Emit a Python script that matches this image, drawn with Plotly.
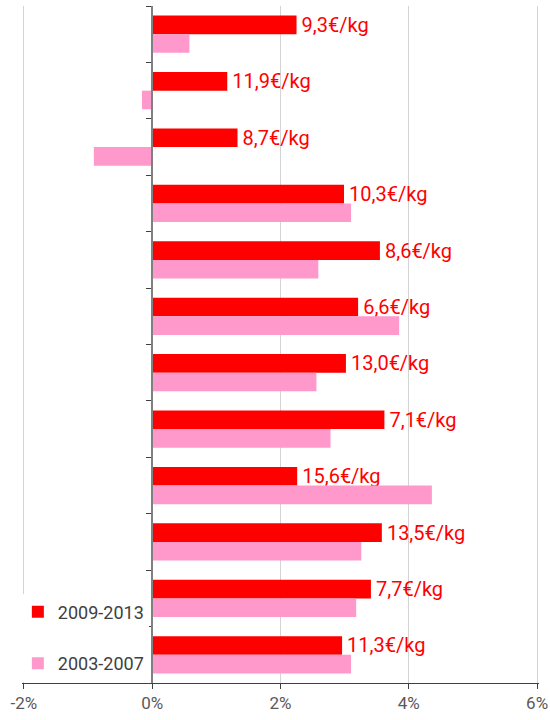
import plotly.graph_objects as go

categories = ["P1", "P2", "P3", "P4", "P5", "P6", "P7", "P8", "P9", "P10", "P11", "P12"]
growth_2009_2013 = [2.25, 1.17, 1.33, 2.99, 3.55, 3.21, 3.02, 3.62, 2.26, 3.58, 3.41, 2.96]
growth_2003_2007 = [0.58, -0.16, -0.91, 3.10, 2.59, 3.85, 2.56, 2.78, 4.36, 3.26, 3.18, 3.10]
price_labels = ["9,3€/kg", "11,9€/kg", "8,7€/kg", "10,3€/kg", "8,6€/kg", "6,6€/kg",
                "13,0€/kg", "7,1€/kg", "15,6€/kg", "13,5€/kg", "7,7€/kg", "11,3€/kg"]
x_tick_vals = [-2, 0, 2, 4, 6]
x_tick_text = ["-2%", "0%", "2%", "4%", "6%"]

FONT = "Roboto"
X_PAD = 0.03  # small range padding so edge gridlines are drawn

fig = go.Figure()
fig.add_trace(go.Bar(
    y=categories, x=growth_2009_2013, orientation="h", name="2009-2013",
    marker=dict(color="#ff0000", line=dict(width=0)),
    text=["\u200a" + t for t in price_labels], textposition="outside", cliponaxis=False,
    constraintext="none",
    textfont=dict(color="#ff0000", size=20, family=FONT),
    legendgroup="a", hoverinfo="x+name",
))
fig.add_trace(go.Bar(
    y=categories, x=growth_2003_2007, orientation="h", name="2003-2007",
    marker=dict(color="#ff99cc", line=dict(width=0)),
    legendgroup="b", hoverinfo="x+name",
))

x_min, x_max = x_tick_vals[0] - X_PAD, x_tick_vals[-1] + X_PAD
zero_frac = (0 - x_min) / (x_max - x_min)

fig.update_layout(
    width=550, height=720,
    margin=dict(l=22, r=11, t=6, b=37, autoexpand=False),
    plot_bgcolor="white", paper_bgcolor="white",
    barmode="group", bargap=0.34, bargroupgap=0,
    font=dict(family=FONT, color="#595959"),
    showlegend=True,
    legend=dict(
        x=-0.008, y=0.002, xanchor="left", yanchor="bottom",
        bgcolor="white", borderwidth=0,
        font=dict(size=18, color="#404040", family=FONT),
        traceorder="grouped", tracegroupgap=25,
        itemwidth=30,
    ),
    xaxis=dict(
        range=[x_min, x_max], tickvals=x_tick_vals, ticktext=x_tick_text,
        showgrid=True, gridcolor="#d4d4d4", gridwidth=1,
        zeroline=False, automargin=False,
        showline=True, linecolor="#404040", linewidth=1,
        ticks="outside", ticklen=5, tickcolor="#404040",
        tickfont=dict(size=17, color="#595959", family=FONT),
        fixedrange=True,
    ),
    yaxis=dict(
        autorange="reversed", showticklabels=False, showgrid=False,
        anchor="free", position=zero_frac, automargin=False,
        showline=True, linecolor="#808080", linewidth=2,
        ticks="outside", tickson="boundaries", ticklen=5, tickcolor="#404040",
        zeroline=False, fixedrange=True,
    ),
)

fig.write_html(
    "out.html",
    config={"displayModeBar": False},
    post_script="document.body.style.margin='0';document.body.style.overflow='hidden';",
)
